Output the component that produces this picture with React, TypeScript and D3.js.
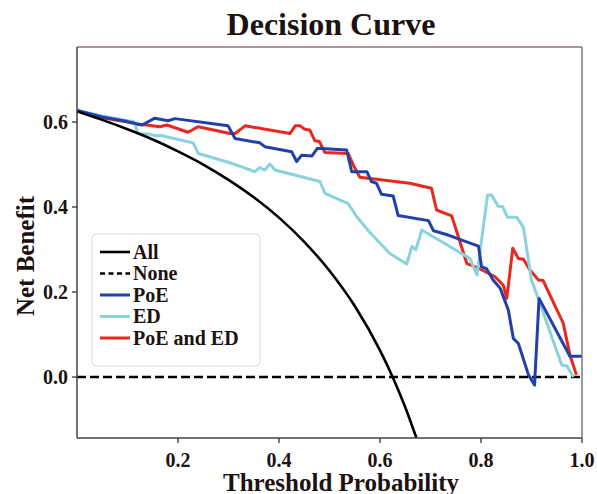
import React from "react";
import * as d3 from "d3";

// threshold probabilities and net benefit
const allT = [0, 0.05, 0.1, 0.15, 0.2, 0.25, 0.3, 0.35, 0.4, 0.45, 0.5, 0.55, 0.6, 0.625, 0.65, 0.672];
const allNB = [0.625, 0.605, 0.583, 0.559, 0.531, 0.5, 0.464, 0.423, 0.375, 0.318, 0.25, 0.167, 0.0625, 0, -0.071, -0.143];

const noneT = [0, 1];
const noneNB = [0, 0];

const poeT = [0, 0.05, 0.1, 0.129, 0.154, 0.18, 0.194, 0.299, 0.313, 0.362, 0.372, 0.425, 0.435, 0.445, 0.465, 0.476, 0.534, 0.544, 0.574, 0.583, 0.593, 0.603, 0.626, 0.636, 0.696, 0.706, 0.735, 0.762, 0.795, 0.801, 0.811, 0.824, 0.838, 0.854, 0.864, 0.874, 0.894, 0.906, 0.915, 0.976, 1.0];
const poeNB = [0.627, 0.612, 0.601, 0.593, 0.609, 0.603, 0.608, 0.591, 0.561, 0.551, 0.542, 0.53, 0.507, 0.522, 0.52, 0.538, 0.534, 0.483, 0.483, 0.46, 0.456, 0.43, 0.426, 0.38, 0.368, 0.344, 0.334, 0.322, 0.308, 0.26, 0.255, 0.228, 0.209, 0.158, 0.091, 0.079, 0.005, -0.019, 0.185, 0.049, 0.049];

const edT = [0, 0.05, 0.1, 0.112, 0.121, 0.141, 0.158, 0.164, 0.23, 0.24, 0.303, 0.323, 0.352, 0.362, 0.372, 0.382, 0.392, 0.481, 0.491, 0.537, 0.554, 0.58, 0.62, 0.653, 0.663, 0.671, 0.683, 0.778, 0.792, 0.813, 0.821, 0.834, 0.843, 0.852, 0.871, 0.884, 0.9, 0.917, 0.947, 0.96, 0.97, 0.983];
const edNB = [0.627, 0.614, 0.603, 0.601, 0.573, 0.572, 0.567, 0.569, 0.551, 0.526, 0.504, 0.496, 0.483, 0.493, 0.487, 0.501, 0.487, 0.46, 0.432, 0.408, 0.377, 0.34, 0.29, 0.266, 0.307, 0.3, 0.346, 0.279, 0.24, 0.428, 0.428, 0.402, 0.401, 0.376, 0.376, 0.352, 0.228, 0.173, 0.071, 0.028, 0.026, 0.0];

const bothT = [0, 0.05, 0.1, 0.118, 0.138, 0.164, 0.178, 0.22, 0.24, 0.303, 0.313, 0.333, 0.422, 0.432, 0.442, 0.451, 0.461, 0.471, 0.48, 0.491, 0.537, 0.547, 0.56, 0.659, 0.702, 0.712, 0.742, 0.772, 0.792, 0.828, 0.844, 0.851, 0.863, 0.874, 0.884, 0.897, 0.914, 0.923, 0.963, 0.976, 0.989];
const bothNB = [0.627, 0.61, 0.6, 0.595, 0.593, 0.589, 0.593, 0.576, 0.589, 0.573, 0.573, 0.591, 0.573, 0.591, 0.591, 0.583, 0.581, 0.556, 0.554, 0.528, 0.526, 0.499, 0.47, 0.456, 0.444, 0.393, 0.379, 0.267, 0.258, 0.236, 0.216, 0.185, 0.303, 0.279, 0.277, 0.252, 0.228, 0.227, 0.126, 0.052, 0.005];

const xTicks = [0.2, 0.4, 0.6, 0.8, 1.0];
const yTicks = [0.0, 0.2, 0.4, 0.6];

const series = [
  { name: "All", t: allT, nb: allNB, color: "#000000", width: 2.6, dash: "", smooth: true },
  { name: "None", t: noneT, nb: noneNB, color: "#000000", width: 2.6, dash: "9,4", smooth: false },
  { name: "PoE", t: poeT, nb: poeNB, color: "#2141a8", width: 3, dash: "", smooth: false },
  { name: "ED", t: edT, nb: edNB, color: "#8ad2de", width: 3, dash: "", smooth: false },
  { name: "PoE and ED", t: bothT, nb: bothNB, color: "#e8281e", width: 3, dash: "", smooth: false },
];

const W = 597;
const H = 494;
const left = 77;
const right = 582;
const top = 47;
const bottom = 438;
const font = "'Liberation Serif', 'Times New Roman', serif";
const ink = "#1c1211";

export default function App() {
  const x = d3.scaleLinear().domain([0, 1]).range([left, right]);
  const y = d3.scaleLinear().domain([-0.1435, 0.7765]).range([bottom, top]);

  // None underneath, All on top
  const drawOrder = [series[1], series[4], series[3], series[2], series[0]];

  return (
    <svg width={W} height={H} style={{ position: "absolute", left: 0, top: 0, background: "#fff" }}>
      <defs>
        <clipPath id="plot-area">
          <rect x={left} y={top} width={right - left} height={bottom - top} />
        </clipPath>
      </defs>

      <text x={331} y={35} textAnchor="middle" fontFamily={font} fontWeight="bold" fontSize={32} fill={ink}>
        Decision Curve
      </text>

      <g clipPath="url(#plot-area)">
        {drawOrder.map((s) => {
          const pts = s.t.map((t, i) => [t, s.nb[i]] as [number, number]);
          const line = d3
            .line<[number, number]>()
            .x((d) => x(d[0]))
            .y((d) => y(d[1]))
            .curve(s.smooth ? d3.curveMonotoneX : d3.curveLinear);
          return (
            <path
              key={s.name}
              d={line(pts) || ""}
              fill="none"
              stroke={s.color}
              strokeWidth={s.width}
              strokeDasharray={s.dash || undefined}
              strokeLinejoin="round"
            />
          );
        })}
      </g>

      {/* spines */}
      <line x1={left} x2={right} y1={top} y2={top} stroke="#857874" strokeWidth={1.5} />
      <line x1={right} x2={right} y1={top} y2={bottom} stroke="#857874" strokeWidth={1.5} />
      <line x1={left} x2={left} y1={top} y2={bottom} stroke="#444" strokeWidth={1.5} />
      <line x1={left} x2={right} y1={bottom} y2={bottom} stroke="#444" strokeWidth={1.5} />

      {xTicks.map((t) => (
        <g key={"x" + t}>
          <line x1={x(t)} x2={x(t)} y1={bottom} y2={bottom + 5} stroke="#333" strokeWidth={1.3} />
          <text x={x(t)} y={467} textAnchor="middle" fontFamily={font} fontWeight="bold" fontSize={20} fill={ink}>
            {t.toFixed(1)}
          </text>
        </g>
      ))}
      {yTicks.map((t) => (
        <g key={"y" + t}>
          <line x1={left - 5} x2={left} y1={y(t)} y2={y(t)} stroke="#333" strokeWidth={1.3} />
          <text x={left - 9} y={y(t) + 7} textAnchor="end" fontFamily={font} fontWeight="bold" fontSize={20} fill={ink}>
            {t.toFixed(1)}
          </text>
        </g>
      ))}

      <text x={341} y={491} textAnchor="middle" fontFamily={font} fontWeight="bold" fontSize={25} fill={ink}>
        Threshold Probability
      </text>
      <text
        transform={`translate(34, 256) rotate(-90)`}
        textAnchor="middle"
        fontFamily={font}
        fontWeight="bold"
        fontSize={25}
        fill={ink}
      >
        Net Benefit
      </text>

      {/* legend */}
      <rect x={92} y={234} width={168} height={132} rx={4} fill="#fff" fillOpacity={0.85} stroke="#d8d8d8" strokeWidth={1} />
      {series.map((s, i) => {
        const cy = 252 + i * 21.5;
        return (
          <g key={"lg" + s.name}>
            <line x1={100} x2={130} y1={cy} y2={cy} stroke={s.color} strokeWidth={s.width} strokeDasharray={s.dash ? "5,3.5" : undefined} />
            <text x={133} y={cy + 6.5} fontFamily={font} fontWeight="bold" fontSize={20} fill={ink}>
              {s.name}
            </text>
          </g>
        );
      })}
    </svg>
  );
}
